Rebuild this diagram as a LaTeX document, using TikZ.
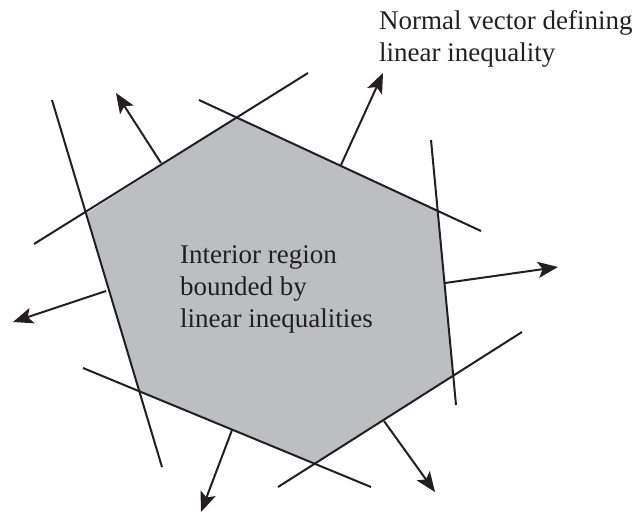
\documentclass[tikz,border=0pt]{standalone}
\usepackage{fontspec}
\setmainfont{Liberation Serif}
\usetikzlibrary{arrows.meta}
\definecolor{regiongray}{RGB}{189,190,194}
\definecolor{inkc}{RGB}{35,31,32}
\begin{document}
\begin{tikzpicture}[x=1pt,y=-1pt,
  bline/.style={draw=inkc,line width=2pt},
  normalarrow/.style={draw=inkc,line width=2pt,-{Stealth[length=20pt,width=16pt,inset=4.5pt]}},
  lbl/.style={font=\fontsize{27}{32}\selectfont,text=inkc,inner sep=0pt,align=left,anchor=base west}]
\useasboundingbox (0,0) rectangle (634,515);
% hexagon vertices
\coordinate (vT) at (237,118);
\coordinate (vRT) at (438,210);
\coordinate (vRB) at (453,375);
\coordinate (vB) at (315,463);
\coordinate (vBL) at (139,392);
\coordinate (vL) at (87,213);
\fill[regiongray] (vT) -- (vRT) -- (vRB) -- (vB) -- (vBL) -- (vL) -- cycle;
% line ends
\coordinate (l1a) at (34,244);  \coordinate (l1b) at (308,73);
\coordinate (l2a) at (199,100); \coordinate (l2b) at (481,231);
\coordinate (l3a) at (431,140); \coordinate (l3b) at (456,405);
\coordinate (l4a) at (522,332); \coordinate (l4b) at (278,487);
\coordinate (l5a) at (83,368);  \coordinate (l5b) at (371,487);
\coordinate (l6a) at (52,100);  \coordinate (l6b) at (162,467);
\draw[bline] (l1a) -- (l1b);
\draw[bline] (l2a) -- (l2b);
\draw[bline] (l3a) -- (l3b);
\draw[bline] (l4a) -- (l4b);
\draw[bline] (l5a) -- (l5b);
\draw[bline] (l6a) -- (l6b);
% normal vectors
\coordinate (n1a) at (161,163); \coordinate (n1b) at (116,93);
\coordinate (n2a) at (341,165); \coordinate (n2b) at (383,73);
\coordinate (n3a) at (445,283); \coordinate (n3b) at (558,267);
\coordinate (n4a) at (106,291); \coordinate (n4b) at (13,322);
\coordinate (n5a) at (384,421); \coordinate (n5b) at (435,492);
\coordinate (n6a) at (232,430); \coordinate (n6b) at (201,512);
\draw[normalarrow] (n1a) -- (n1b);
\draw[normalarrow] (n2a) -- (n2b);
\draw[normalarrow] (n3a) -- (n3b);
\draw[normalarrow] (n4a) -- (n4b);
\draw[normalarrow] (n5a) -- (n5b);
\draw[normalarrow] (n6a) -- (n6b);
% labels (anchor = baseline of the last line)
\node[lbl] (normlbl) at (379,61) {Normal vector defining\\linear inequality};
\node[lbl] (intlbl) at (180,327) {Interior region\\bounded by\\linear inequalities};
\end{tikzpicture}
\end{document}
